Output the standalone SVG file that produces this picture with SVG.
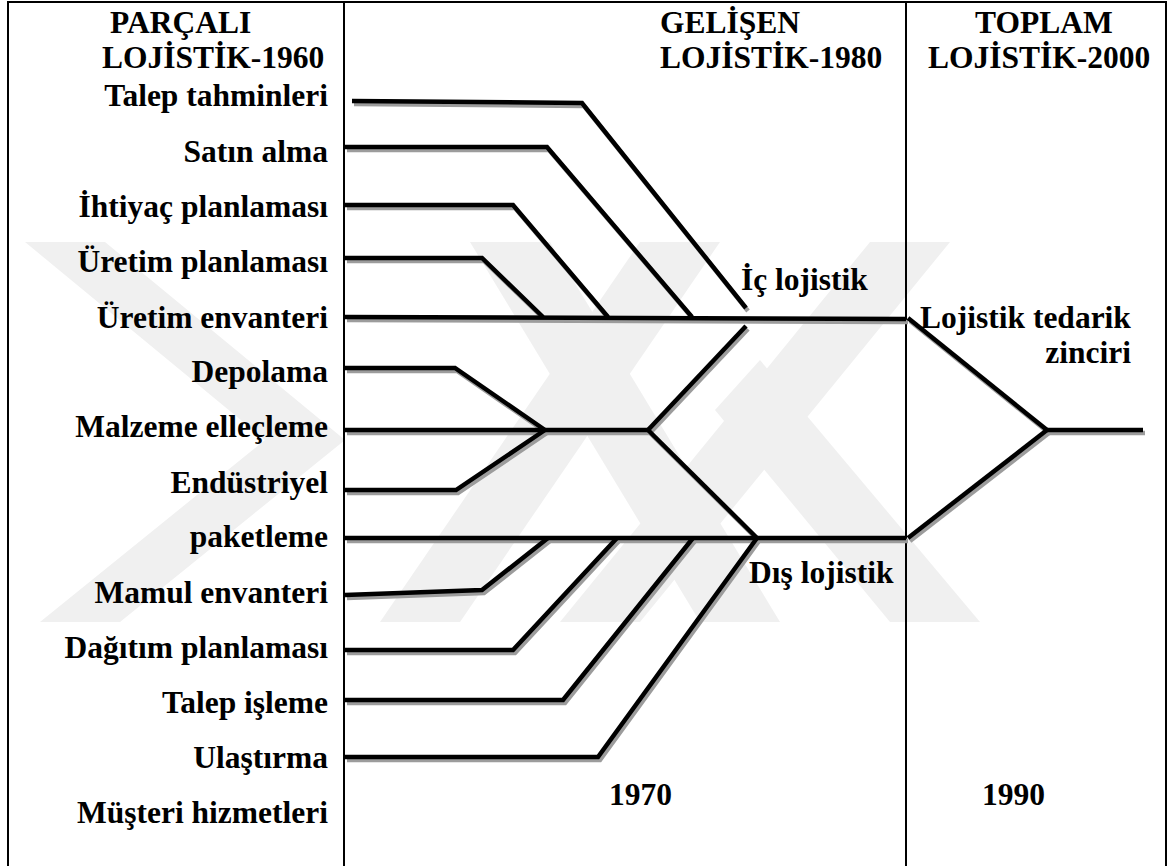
<svg xmlns="http://www.w3.org/2000/svg" xmlns:xlink="http://www.w3.org/1999/xlink" width="1171" height="866" viewBox="0 0 1171 866">
  <style>
    .t { font-family: "Liberation Serif", "Times New Roman", serif; font-weight: bold; font-size: 31.5px; fill: #000; }
    .lbl { text-anchor: end; }
    .frame { stroke: #000; stroke-width: 2; fill: none; }
    .wm { fill: #f0f0f0; }
    .ln { fill: none; stroke: #000; stroke-width: 4.5; stroke-linejoin: miter; stroke-linecap: butt; }
    .sh { fill: none; stroke: #9c9c9c; stroke-width: 4.5; stroke-linejoin: miter; stroke-linecap: butt; }
  </style>
  <defs>
    <path id="p-talep" d="M352,101 L582,103 L746,308"/>
    <path id="p-satin" d="M345,147 L547,147 L692,317"/>
    <path id="p-ihtiyac" d="M345,205 L513,205 L608,317"/>
    <path id="p-uplan" d="M345,258 L482,258 L543,317"/>
    <path id="p-ic" d="M345,317 L906,319"/>
    <path id="p-depo" d="M345,368 L455,368 L545,430"/>
    <path id="p-malz" d="M345,430 L648,430"/>
    <path id="p-endus" d="M345,490 L456,490 L545,430"/>
    <path id="p-up" d="M648,430 L746,326"/>
    <path id="p-down" d="M648,430 L757,538"/>
    <path id="p-dis" d="M345,538 L906,538"/>
    <path id="p-mamul" d="M345,595 L482,590 L548,538"/>
    <path id="p-dagitim" d="M345,650 L513,650 L617,538"/>
    <path id="p-tisleme" d="M345,700 L563,700 L693,538"/>
    <path id="p-ulas" d="M345,757 L598,757 L757,538"/>
    <path id="p-ltz1" d="M908,318 L1047,430"/>
    <path id="p-ltz2" d="M908,538 L1047,430"/>
    <path id="p-out" d="M1047,430 L1143,430"/>
  </defs>

  <rect width="1171" height="866" fill="#fff"/>

  <!-- faint background mark -->
  <g id="watermark">
    <polygon class="wm" points="25,242 105,242 345,440 120,622 40,622 265,440"/>
    <polygon class="wm" points="380,622 460,622 720,242 640,242"/>
    <polygon class="wm" points="470,242 550,242 780,622 700,622"/>
    <polygon class="wm" points="560,622 640,622 950,242 870,242"/>
    <polygon class="wm" points="715,410 760,360 980,622 890,622"/>
  </g>

  <!-- table frame -->
  <g id="frame">
    <line class="frame" x1="8" y1="2" x2="1166" y2="2"/>
    <line class="frame" x1="8" y1="1" x2="8" y2="866"/>
    <line class="frame" x1="344" y1="1" x2="344" y2="866"/>
    <line class="frame" x1="906" y1="1" x2="906" y2="866"/>
    <line class="frame" x1="1166" y1="1" x2="1166" y2="866"/>
  </g>

  <!-- connectors: grey drop shadow, then black stroke -->
  <g id="connectors">
    <g transform="translate(2,3)">
      <use class="sh" xlink:href="#p-talep"/>
      <use class="sh" xlink:href="#p-satin"/>
      <use class="sh" xlink:href="#p-ihtiyac"/>
      <use class="sh" xlink:href="#p-uplan"/>
      <use class="sh" xlink:href="#p-ic"/>
      <use class="sh" xlink:href="#p-depo"/>
      <use class="sh" xlink:href="#p-malz"/>
      <use class="sh" xlink:href="#p-endus"/>
      <use class="sh" xlink:href="#p-up"/>
      <use class="sh" xlink:href="#p-down"/>
      <use class="sh" xlink:href="#p-dis"/>
      <use class="sh" xlink:href="#p-mamul"/>
      <use class="sh" xlink:href="#p-dagitim"/>
      <use class="sh" xlink:href="#p-tisleme"/>
      <use class="sh" xlink:href="#p-ulas"/>
      <use class="sh" xlink:href="#p-ltz1"/>
      <use class="sh" xlink:href="#p-ltz2"/>
      <use class="sh" xlink:href="#p-out"/>
    </g>
    <use class="ln" xlink:href="#p-talep"/>
    <use class="ln" xlink:href="#p-satin"/>
    <use class="ln" xlink:href="#p-ihtiyac"/>
    <use class="ln" xlink:href="#p-uplan"/>
    <use class="ln" xlink:href="#p-ic"/>
    <use class="ln" xlink:href="#p-depo"/>
    <use class="ln" xlink:href="#p-malz"/>
    <use class="ln" xlink:href="#p-endus"/>
    <use class="ln" xlink:href="#p-up"/>
    <use class="ln" xlink:href="#p-down"/>
    <use class="ln" xlink:href="#p-dis"/>
    <use class="ln" xlink:href="#p-mamul"/>
    <use class="ln" xlink:href="#p-dagitim"/>
    <use class="ln" xlink:href="#p-tisleme"/>
    <use class="ln" xlink:href="#p-ulas"/>
    <use class="ln" xlink:href="#p-ltz1"/>
    <use class="ln" xlink:href="#p-ltz2"/>
    <use class="ln" xlink:href="#p-out"/>
  </g>

  <!-- column headings -->
  <g id="head-1960">
    <text class="t" x="110" y="33">PARÇALI</text>
    <text class="t" x="102" y="68">LOJİSTİK-1960</text>
  </g>
  <g id="head-1980">
    <text class="t" x="660" y="33">GELİŞEN</text>
    <text class="t" x="660" y="68">LOJİSTİK-1980</text>
  </g>
  <g id="head-2000">
    <text class="t" x="975" y="33">TOPLAM</text>
    <text class="t" x="928" y="68">LOJİSTİK-2000</text>
  </g>

  <!-- activity labels -->
  <g id="n-talep"><text class="t lbl" x="328" y="106">Talep tahminleri</text></g>
  <g id="n-satin"><text class="t lbl" x="328" y="162">Satın alma</text></g>
  <g id="n-ihtiyac"><text class="t lbl" x="328" y="217">İhtiyaç planlaması</text></g>
  <g id="n-uplan"><text class="t lbl" x="328" y="272">Üretim planlaması</text></g>
  <g id="n-uenv"><text class="t lbl" x="328" y="328">Üretim envanteri</text></g>
  <g id="n-depo"><text class="t lbl" x="328" y="382">Depolama</text></g>
  <g id="n-malz"><text class="t lbl" x="328" y="437">Malzeme elleçleme</text></g>
  <g id="n-endus"><text class="t lbl" x="328" y="493">Endüstriyel</text></g>
  <g id="n-paket"><text class="t lbl" x="328" y="547">paketleme</text></g>
  <g id="n-mamul"><text class="t lbl" x="328" y="603">Mamul envanteri</text></g>
  <g id="n-dagitim"><text class="t lbl" x="328" y="658">Dağıtım planlaması</text></g>
  <g id="n-tisleme"><text class="t lbl" x="328" y="713">Talep işleme</text></g>
  <g id="n-ulas"><text class="t lbl" x="328" y="768">Ulaştırma</text></g>
  <g id="n-musteri"><text class="t lbl" x="328" y="823">Müşteri hizmetleri</text></g>

  <!-- stage labels -->
  <g id="n-ic"><text class="t" x="741" y="290">İç lojistik</text></g>
  <g id="n-dis"><text class="t" x="749" y="583">Dış lojistik</text></g>
  <g id="n-ltz">
    <text class="t" x="920" y="328">Lojistik tedarik</text>
    <text class="t" x="1131" y="363" text-anchor="end">zinciri</text>
  </g>
  <g id="n-1970"><text class="t" x="609" y="805">1970</text></g>
  <g id="n-1990"><text class="t" x="982" y="805">1990</text></g>
</svg>
